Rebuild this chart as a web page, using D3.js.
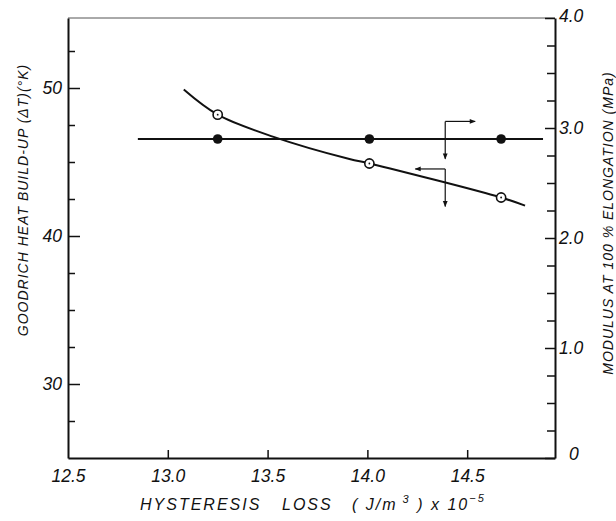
<!DOCTYPE html>
<html>
<head>
<meta charset="utf-8">
<script src="https://cdn.jsdelivr.net/npm/d3@7"></script>
<style>
	body { margin: 0; background: #fff; }
	text { font-family: "Liberation Sans", Arial, sans-serif; font-style: italic; fill: #111; }
</style>
</head>
<body>
<svg id="chart"></svg>
<script>
// hysteresis loss, J/m3 x 10^-5
const hysteresis = [13.25, 14.01, 14.67];
// goodrich heat build-up, open circles (left axis)
const heatBuildUp = [48.2, 44.9, 42.6];
// modulus at 100 % elongation, filled circles (right axis)
const modulus = [2.9, 2.9, 2.9];

// fitted curve for heat build-up, as drawn
const fitX = [13.08, 13.25, 13.53, 13.91, 14.01, 14.67, 14.79];
const fitY = [49.9, 48.2, 46.7, 45.2, 44.9, 42.6, 42.05];
// horizontal fit for modulus
const modLineX = [12.85, 14.88];

const xTicks = [12.5, 13.0, 13.5, 14.0, 14.5];
const leftTicks = [30, 40, 50];
const leftMinor = [27.5, 32.5, 35, 37.5, 42.5, 45, 47.5, 52.5];
const rightTicks = [0, 1, 2, 3, 4];
const rightMinor = [0.25, 0.5, 0.75, 1.25, 1.5, 1.75, 2.25, 2.5, 2.75, 3.25, 3.5, 3.75];

const W = 616, H = 521;
const svg = d3.select("#chart").attr("width", W).attr("height", H);

let x = d3.scaleLinear().domain([12.5, 14.94]).range([68, 555]);
let yL = d3.scaleLinear().domain([25, 54.73]).range([458, 18]);
let yR = d3.scaleLinear().domain([0, 4]).range([458, 18]);

svg.append("defs").append("marker")
	.attr("id", "head").attr("viewBox", "0 0 10 10")
	.attr("refX", 9).attr("refY", 5)
	.attr("markerWidth", 9).attr("markerHeight", 6)
	.attr("markerUnits", "userSpaceOnUse")
	.attr("orient", "auto")
	.append("path").attr("d", "M0,1 L10,5 L0,9 Z").attr("fill", "#111");

// top border (thin)
svg.append("line").attr("x1", 68).attr("x2", 555).attr("y1", 18).attr("y2", 18)
	.attr("stroke", "#555").attr("stroke-width", 1);

function styleAxis(g) {
	g.select(".domain").attr("stroke", "#111").attr("stroke-width", 2);
	g.selectAll(".tick line").attr("stroke", "#111").attr("stroke-width", 1.5);
	g.selectAll("text").attr("font-size", 17.5).attr("fill", "#111");
}

// left axis
let gl = svg.append("g").attr("transform", "translate(68,0)")
	.call(d3.axisLeft(yL).tickValues(leftTicks).tickSizeInner(-12).tickSizeOuter(0).tickPadding(6).tickFormat(d3.format("d")));
styleAxis(gl);
svg.append("g").attr("transform", "translate(68,0)")
	.call(d3.axisLeft(yL).tickValues(leftMinor).tickSizeInner(-7).tickSizeOuter(0).tickFormat(""))
	.call(g => g.select(".domain").remove())
	.selectAll(".tick line").attr("stroke", "#111").attr("stroke-width", 1.5);

// right axis
let gr = svg.append("g").attr("transform", "translate(555,0)")
	.call(d3.axisRight(yR).tickValues(rightTicks).tickSizeInner(-10).tickSizeOuter(0).tickPadding(4)
		.tickFormat(d => d === 0 ? "0" : d3.format(".1f")(d)));
styleAxis(gr);
gr.selectAll(".tick").filter(d => d === 0).select("text").attr("dx", 10).attr("dy", "0.1em");
gr.selectAll(".tick").filter(d => d === 4).select("text").attr("dy", "0.2em");
svg.append("g").attr("transform", "translate(555,0)")
	.call(d3.axisRight(yR).tickValues(rightMinor).tickSizeInner(-8).tickSizeOuter(0).tickFormat(""))
	.call(g => g.select(".domain").remove())
	.selectAll(".tick line").attr("stroke", "#111").attr("stroke-width", 1.5);

// bottom axis
let gb = svg.append("g").attr("transform", "translate(0,458)")
	.call(d3.axisBottom(x).tickValues(xTicks).tickSizeInner(-8).tickSizeOuter(0).tickPadding(12).tickFormat(d3.format(".1f")));
styleAxis(gb);
gb.selectAll(".tick").filter(d => d === 12.5).select("line").remove();

// axis titles
svg.append("text")
	.attr("transform", "translate(28,200) rotate(-90)")
	.attr("text-anchor", "middle").attr("font-size", 14).attr("letter-spacing", 1)
	.text("GOODRICH  HEAT  BUILD-UP (ΔT)(°K)");

svg.append("text")
	.attr("transform", "translate(613,223) rotate(-90)")
	.attr("text-anchor", "middle").attr("font-size", 14).attr("letter-spacing", 1)
	.text("MODULUS  AT 100 %  ELONGATION  (MPa)");

let xtitle = svg.append("g").attr("font-size", 16).attr("letter-spacing", 2);
xtitle.append("text").attr("x", 140).attr("y", 510).text("HYSTERESIS");
xtitle.append("text").attr("x", 282).attr("y", 510).text("LOSS");
let unit = xtitle.append("text").attr("x", 352).attr("y", 510).attr("xml:space", "preserve");
unit.append("tspan").text("( J/m");
unit.append("tspan").attr("font-size", 11).attr("dy", -7).text(" 3");
unit.append("tspan").attr("dy", 7).text(" ) x 10");
unit.append("tspan").attr("font-size", 11).attr("dy", -8).text("−5");

// modulus horizontal line
svg.append("line")
	.attr("x1", x(modLineX[0])).attr("x2", x(modLineX[1]))
	.attr("y1", yR(modulus[0])).attr("y2", yR(modulus[0]))
	.attr("stroke", "#111").attr("stroke-width", 2);

// heat build-up curve
let fit = d3.line()
	.x((d, i) => x(fitX[i]))
	.y(d => yL(d))
	.curve(d3.curveCatmullRom.alpha(0.5));
svg.append("path").datum(fitY).attr("d", fit)
	.attr("fill", "none").attr("stroke", "#111").attr("stroke-width", 2);

// filled points
svg.selectAll(".mod").data(modulus).enter().append("circle").attr("class", "mod")
	.attr("cx", (d, i) => x(hysteresis[i])).attr("cy", d => yR(d)).attr("r", 4.8)
	.attr("fill", "#111");

// open points with centre dot
svg.selectAll(".heat").data(heatBuildUp).enter().append("circle").attr("class", "heat")
	.attr("cx", (d, i) => x(hysteresis[i])).attr("cy", d => yL(d)).attr("r", 4.6)
	.attr("fill", "#fff").attr("stroke", "#111").attr("stroke-width", 1.6);
svg.selectAll(".dot").data(heatBuildUp).enter().append("circle").attr("class", "dot")
	.attr("cx", (d, i) => x(hysteresis[i])).attr("cy", d => yL(d)).attr("r", 0.9)
	.attr("fill", "#111");

// arrows: which curve belongs to which axis
function pointer(cx, cy, hx, by) {
	svg.append("line").attr("x1", cx).attr("y1", cy).attr("x2", hx).attr("y2", cy)
		.attr("stroke", "#111").attr("stroke-width", 1.2).attr("marker-end", "url(#head)");
	svg.append("line").attr("x1", cx).attr("y1", cy).attr("x2", cx).attr("y2", by)
		.attr("stroke", "#111").attr("stroke-width", 1.2).attr("marker-end", "url(#head)");
}
pointer(x(14.39), yR(3.06), x(14.54), yR(2.72));
pointer(x(14.39), yL(44.53), x(14.24), yL(42.0));
</script>
</body>
</html>
